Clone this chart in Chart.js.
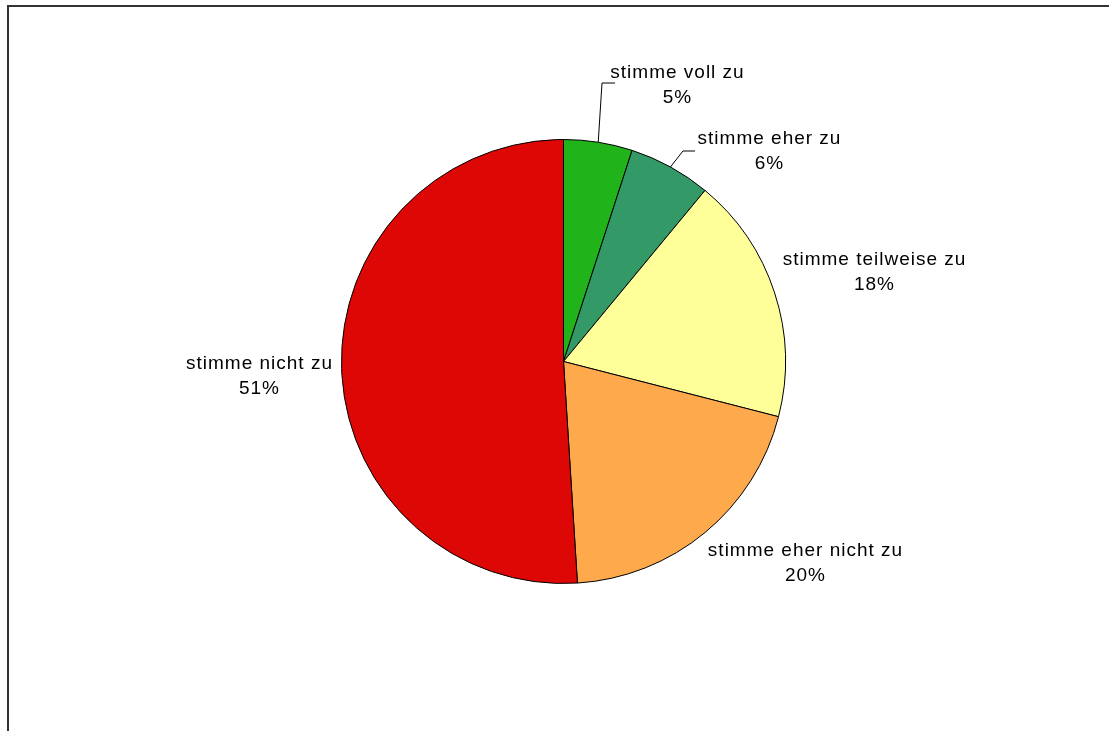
<!DOCTYPE html>
<html>
<head>
<meta charset="utf-8">
<script src="https://cdn.jsdelivr.net/npm/chart.js@4/dist/chart.umd.min.js"></script>
<style>
  html, body { margin: 0; padding: 0; background: #ffffff; }
  #wrap { position: relative; width: 1109px; height: 731px; }
  canvas { display: block; }
</style>
</head>
<body>
<div id="wrap"><canvas id="pie" width="1109" height="731"></canvas></div>
<script>
// Survey answers and their shares (percent)
const categories = ['stimme voll zu', 'stimme eher zu', 'stimme teilweise zu', 'stimme eher nicht zu', 'stimme nicht zu'];
const shares = [5, 6, 18, 20, 51];
const sliceColors = ['#20b41a', '#339966', '#ffff99', '#ffa94d', '#dd0806'];

// Label placement (first-line baseline) relative to the pie centre, and leader line bends
const labelOffsets = [[114, -284], [206, -218], [311, -97], [242, 194], [-304, 7]];
const leaderBends = [[[38, -279], [51, -279]], [[119, -211], [131, -211]], null, null, null];
const LINE_GAP = 25;

const frame = {
  id: 'frame',
  beforeDraw(chart) {
    const ctx = chart.ctx;
    ctx.save();
    ctx.strokeStyle = '#333333';
    ctx.lineWidth = 2;
    ctx.beginPath();
    ctx.moveTo(8, 731);
    ctx.lineTo(8, 6);
    ctx.lineTo(1109, 6);
    ctx.stroke();
    ctx.restore();
  }
};

const sliceLabels = {
  id: 'sliceLabels',
  afterDatasetsDraw(chart) {
    const ctx = chart.ctx;
    const meta = chart.getDatasetMeta(0);
    ctx.save();
    ctx.font = '19px "Liberation Sans", Arial, sans-serif';
    ctx.letterSpacing = '1px';
    ctx.fillStyle = '#000000';
    ctx.textAlign = 'center';
    ctx.textBaseline = 'alphabetic';
    meta.data.forEach((arc, i) => {
      const cx = arc.x, cy = arc.y;
      const bend = leaderBends[i];
      if (bend) {
        const mid = (arc.startAngle + arc.endAngle) / 2;
        const r = arc.outerRadius;
        ctx.strokeStyle = '#000000';
        ctx.lineWidth = 1;
        ctx.beginPath();
        ctx.moveTo(cx + Math.cos(mid) * r, cy + Math.sin(mid) * r);
        bend.forEach(p => ctx.lineTo(cx + p[0] + 0.5, cy + p[1] + 0.5));
        ctx.stroke();
      }
      const off = labelOffsets[i];
      const lx = cx + off[0], ly = cy + off[1];
      ctx.fillText(categories[i], lx, ly);
      ctx.fillText(shares[i] + '%', lx, ly + LINE_GAP);
    });
    ctx.restore();
  }
};

new Chart(document.getElementById('pie'), {
  type: 'pie',
  data: {
    labels: categories,
    datasets: [{
      data: shares,
      backgroundColor: sliceColors,
      borderColor: '#000000',
      borderWidth: 1
    }]
  },
  options: {
    responsive: false,
    animation: false,
    events: [],
    layout: { padding: { left: 341, right: 323, top: 139, bottom: 147 } },
    plugins: {
      legend: { display: false },
      tooltip: { enabled: false },
      title: { display: false }
    }
  },
  plugins: [frame, sliceLabels]
});
</script>
</body>
</html>
